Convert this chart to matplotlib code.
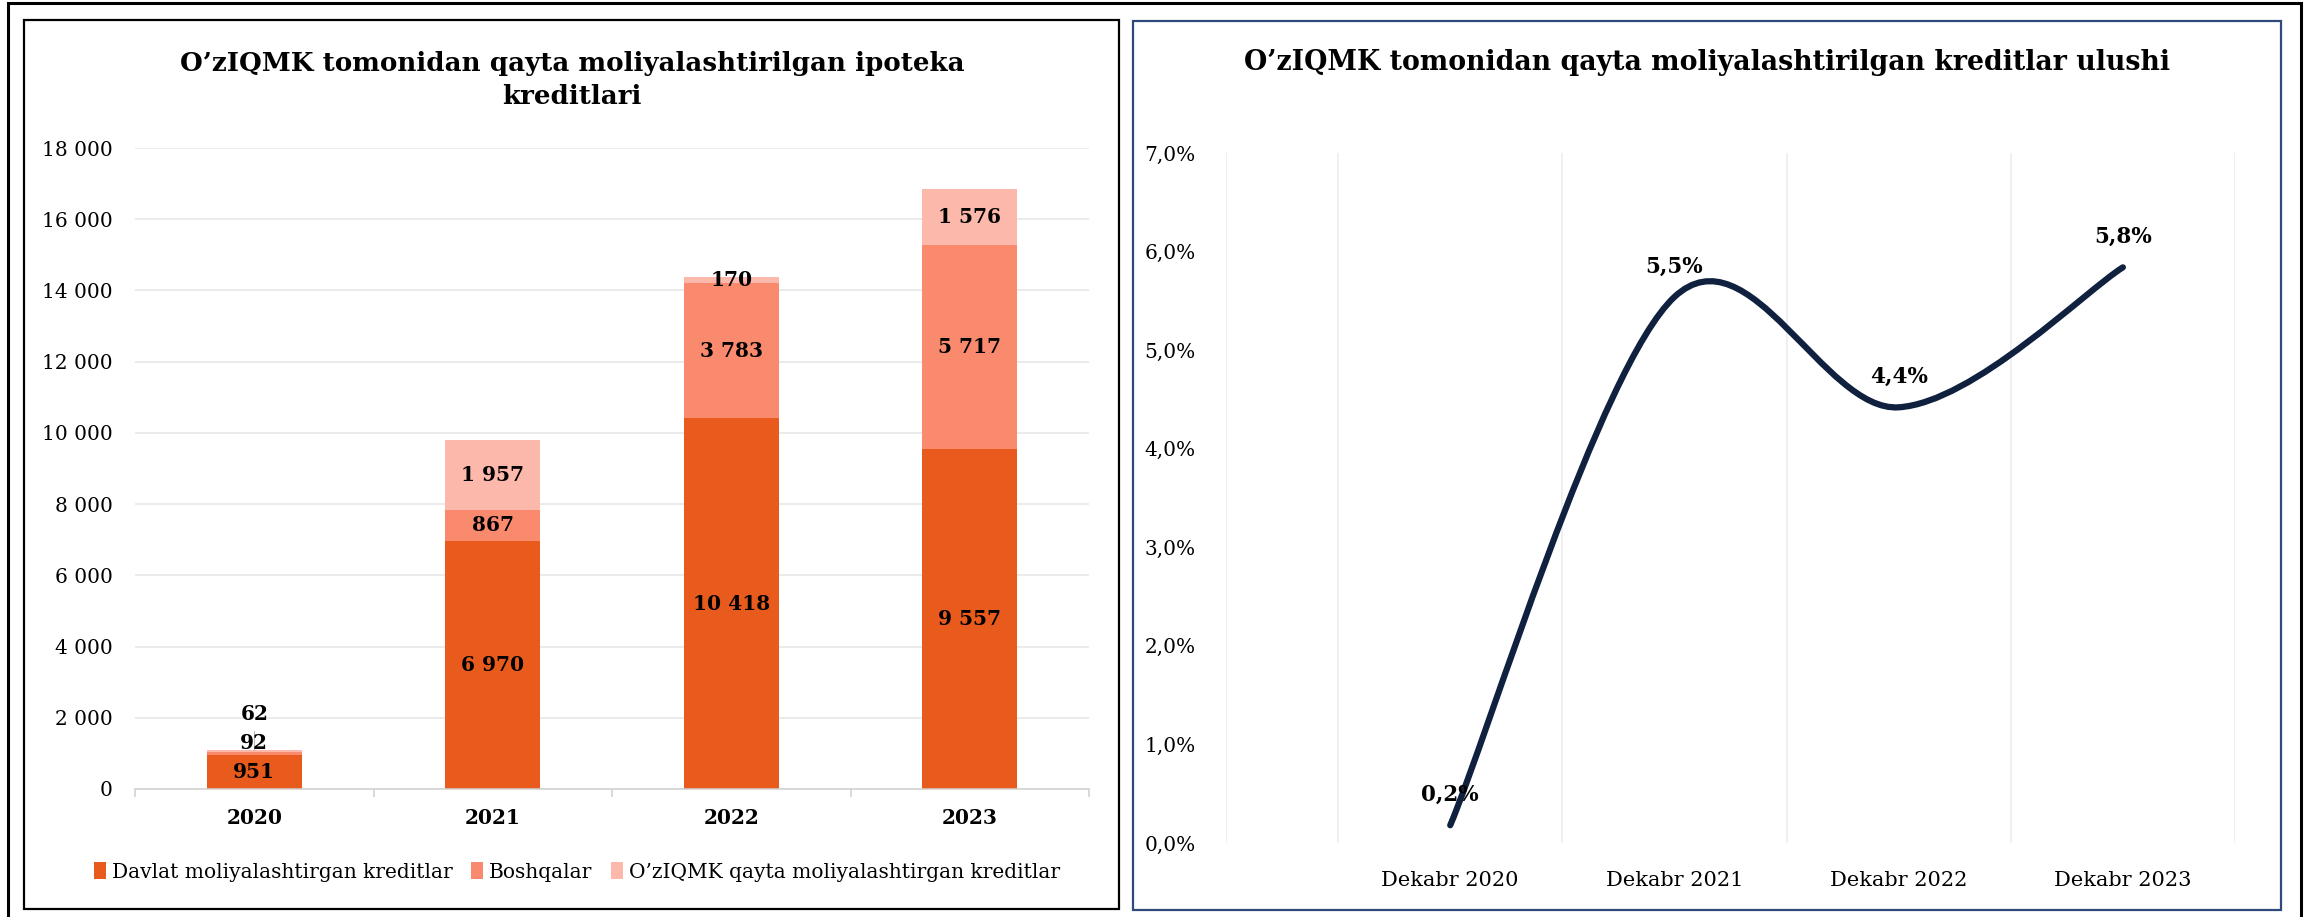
import matplotlib
matplotlib.use("Agg")
import matplotlib.pyplot as plt
import numpy as np
from matplotlib.patches import Rectangle, PathPatch
from matplotlib.path import Path
from matplotlib.ticker import FuncFormatter

plt.rcParams["font.family"] = ["DejaVu Serif", "Liberation Serif"]

# --- data ---
years = ["2020", "2021", "2022", "2023"]
davlat = [951, 6970, 10418, 9557]
boshqalar = [92, 867, 3783, 5717]
refinanced = [62, 1957, 170, 1576]
series_names = [
    "Davlat moliyalashtirgan kreditlar",
    "Boshqalar",
    "O\u2019zIQMK qayta moliyalashtirgan kreditlar",
]

months = ["Dekabr 2020", "Dekabr 2021", "Dekabr 2022", "Dekabr 2023"]
share = [0.0018, 0.0554, 0.0442, 0.0584]

colors = ["#E85B1C", "#F98A6D", "#FBB8AB"]
line_color = "#10213F"

W, H = 2310, 917
fig = plt.figure(figsize=(W / 100, H / 100), dpi=100)


def fx(px):
    return px / W


def fy(py):
    return 1 - py / H


def box(x0, y0, x1, y1, color, lw):
    fig.patches.append(Rectangle((fx(x0), fy(y1)), fx(x1 - x0), (y1 - y0) / H,
                                 transform=fig.transFigure, fill=False,
                                 edgecolor=color, linewidth=lw, clip_on=False))


box(8, 3, 2301, 930, "black", 2.2)
box(24, 20, 1119, 909, "black", 1.6)
box(1133, 21, 2281, 910, "#2E4A7A", 1.6)

# --- left: stacked bars ---
ax = fig.add_axes([fx(135), fy(789), fx(1089 - 135), (789 - 148) / H])
x = np.arange(len(years))
bottoms = np.zeros(len(years))
bars = []
for vals, col, name in zip([davlat, boshqalar, refinanced], colors, series_names):
    ax.bar(x, vals, 0.4, bottom=bottoms, color=col, label=name, zorder=2)
    bars.append((vals, bottoms.copy()))
    bottoms += np.array(vals)

ax.set_ylim(0, 18000)
ax.set_xlim(-0.5, 3.5)
ax.set_yticks(np.arange(0, 18001, 2000))
ax.yaxis.set_major_formatter(FuncFormatter(lambda v, p: f"{int(v):,}".replace(",", " ")))
ax.grid(axis="y", color="#E6E6E6", linewidth=1.1, zorder=0)
ax.set_xticks(x)
ax.set_xticklabels(years, fontweight="bold", fontsize=14.5)
ax.set_xticks(np.arange(-0.5, 3.6, 1), minor=True)
ax.tick_params(axis="x", which="major", length=0, pad=14)
ax.tick_params(axis="x", which="minor", length=6, color="#D0D0D0", width=1.1)
ax.tick_params(axis="y", length=0, labelsize=14.5, pad=16)
for s in ["top", "right", "left"]:
    ax.spines[s].set_visible(False)
ax.spines["bottom"].set_color("#D0D0D0")
ax.spines["bottom"].set_linewidth(1.1)

# the 2020 top segments are too thin, their labels sit above the bar
ax.plot([x[0], x[0]], [bottoms[0], bottoms[0] + 520], color="#BBBBBB",
        linewidth=0.8, zorder=2)
for si, (vals, bots) in enumerate(bars):
    for i, v in enumerate(vals):
        ypos = bots[i] + v / 2
        dy = 0
        if i == 0 and si == 1:
            ypos, dy = bottoms[i], 5
        elif i == 0 and si == 2:
            ypos, dy = bottoms[i], 26
        ax.annotate(f"{v:,}".replace(",", " "), (x[i], ypos), xytext=(0, dy),
                    textcoords="offset points", ha="center", va="center",
                    fontsize=14.5, fontweight="bold", color="black", zorder=3)

fig.legend(loc="center", bbox_to_anchor=(fx(577), fy(872)), ncol=3, frameon=False,
           fontsize=14.5, handlelength=0.6, handleheight=0.9, handletextpad=0.3,
           columnspacing=0.9)

fig.text(fx(572), fy(80), "O\u2019zIQMK tomonidan qayta moliyalashtirilgan ipoteka\nkreditlari",
         ha="center", va="center", fontsize=18.8, fontweight="bold", linespacing=1.45)

# --- right: smoothed line ---
ax2 = fig.add_axes([fx(1226), fy(843), fx(2235 - 1226), (843 - 153) / H])
px = np.arange(len(months), dtype=float)
py = np.array(share)
verts = [(px[0], py[0])]
codes = [Path.MOVETO]
n = len(px)
for i in range(n - 1):
    p0 = np.array([px[max(i - 1, 0)], py[max(i - 1, 0)]])
    p1 = np.array([px[i], py[i]])
    p2 = np.array([px[i + 1], py[i + 1]])
    p3 = np.array([px[min(i + 2, n - 1)], py[min(i + 2, n - 1)]])
    c1 = p1 + (p2 - p0) / 6
    c2 = p2 - (p3 - p1) / 6
    verts += [tuple(c1), tuple(c2), tuple(p2)]
    codes += [Path.CURVE4] * 3
ax2.add_patch(PathPatch(Path(verts, codes), fill=False, edgecolor=line_color,
                        linewidth=4.5, capstyle="round", zorder=3))

for xi, v in zip(px, share):
    ax2.annotate(f"{v * 100:.1f}%".replace(".", ","), (xi, v), xytext=(0, 22),
                 textcoords="offset points", ha="center", va="center",
                 fontsize=15.5, fontweight="bold", zorder=4)

ax2.set_xlim(-1, 3.5)
ax2.set_ylim(0, 0.07)
ax2.set_yticks(np.arange(0, 0.0701, 0.01))
ax2.yaxis.set_major_formatter(FuncFormatter(lambda v, p: f"{v * 100:.1f}%".replace(".", ",")))
ax2.set_xticks(px)
ax2.set_xticklabels(months, fontsize=15)
ax2.set_xticks(np.arange(-1, 3.51, 0.5), minor=True)
ax2.grid(axis="x", which="minor", color="#ECECEC", linewidth=1.1, zorder=0)
ax2.tick_params(axis="x", which="both", length=0, pad=20)
ax2.tick_params(axis="y", length=0, labelsize=14.5, pad=22)
for s in ax2.spines.values():
    s.set_visible(False)

fig.text(fx(1707), fy(62), "O\u2019zIQMK tomonidan qayta moliyalashtirilgan kreditlar ulushi",
         ha="center", va="center", fontsize=19.3, fontweight="bold")

fig.savefig("out.png", dpi=100)
